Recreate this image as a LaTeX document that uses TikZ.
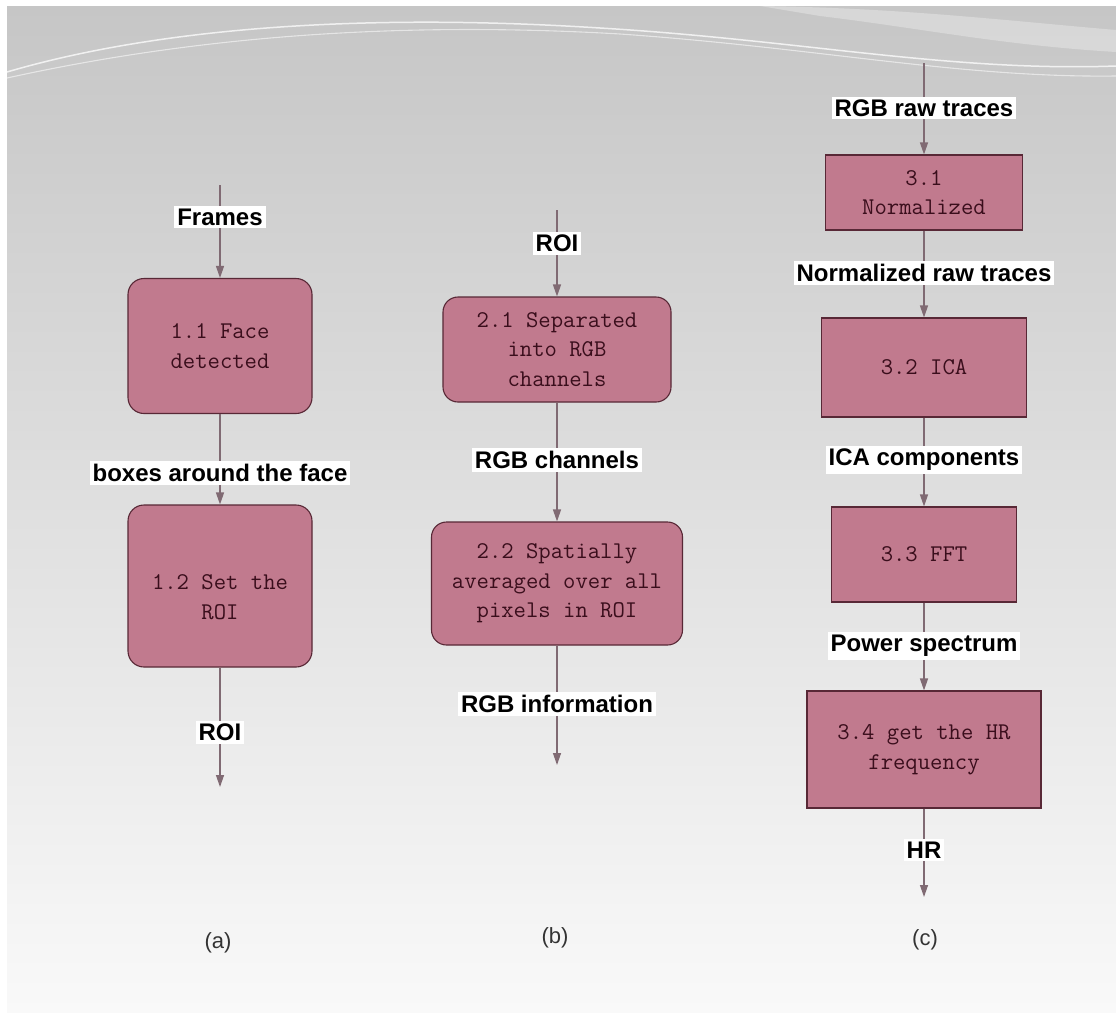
\documentclass[tikz,border=0pt]{standalone}
\usepackage{fontspec}
\newfontfamily\lblfont{Liberation Sans}
\usetikzlibrary{arrows.meta}

\definecolor{bgtop}{RGB}{198,198,198}
\definecolor{bgbot}{RGB}{249,249,249}
\definecolor{boxfill}{RGB}{193,122,142}
\definecolor{boxline}{RGB}{88,40,54}
\definecolor{boxtext}{RGB}{58,14,28}
\definecolor{flowline}{RGB}{128,106,115}

\begin{document}
\begin{tikzpicture}[x=1pt,y=-1pt,
  stepbox/.style={draw=boxline, fill=boxfill, line width=1.1pt, text=boxtext,
    font=\ttfamily\fontsize{24}{29.5}\selectfont, align=center, inner sep=0pt},
  roundbox/.style={stepbox, rounded corners=16pt},
  flow/.style={draw=flowline, line width=1.3pt, -{Triangle[width=8pt,length=12pt]}},
  tag/.style={fill=white, inner xsep=3pt, inner ysep=3pt,
    font=\lblfont\bfseries\fontsize{24}{28}\selectfont, text=black},
  caption/.style={font=\lblfont\fontsize{22}{26}\selectfont, text=black!80}
]
\useasboundingbox (0,0) rectangle (1116,1012);

% slide background
\fill[white] (0,0) rectangle (1116,1012);
\shade[top color=bgtop, bottom color=bgbot] (7,6) rectangle (1116,1012);
\fill[white, opacity=0.3] (760,6) .. controls (900,8) and (1000,20) .. (1116,30)
  -- (1116,52) .. controls (1000,45) and (920,28) .. (820,16) -- cycle;
\draw[white, opacity=0.75, line width=1.5pt] (7,72) .. controls (150,30) and (350,12) .. (600,28)
  .. controls (800,40) and (950,72) .. (1116,66);
\draw[white, opacity=0.55, line width=1.1pt] (7,78) .. controls (180,40) and (380,20) .. (620,34)
  .. controls (820,48) and (960,78) .. (1116,76);

% column (a)
\coordinate (a-in) at (220,185);
\coordinate (a-out) at (220,787);
\node[roundbox, minimum width=184pt, minimum height=135pt] (s11) at (220,346) {1.1 Face\\detected};
\node[roundbox, minimum width=184pt, minimum height=162pt] (s12) at (220,586)
  {\raisebox{-19pt}[0pt][0pt]{\begin{tabular}{@{}c@{}}1.2 Set the\\ROI\end{tabular}}};
\draw[flow] (a-in) -- (s11.north);
\draw[flow] (s11.south) -- (s12.north);
\draw[flow] (s12.south) -- (a-out);
\node[tag] (t-frames) at (220,217) {Frames};
\node[tag] (t-boxes) at (220,473) {boxes around the face};
\node[tag] (t-roi-a) at (220,732) {ROI};
\node[caption] (cap-a) at (218,943) {(a)};

% column (b)
\coordinate (b-in) at (557,210);
\coordinate (b-out) at (557,765);
\node[stepbox, rounded corners=15pt, minimum width=228pt, minimum height=105pt] (s21) at (557,349.5)
  {2.1 Separated\\into RGB\\channels};
\node[stepbox, rounded corners=15pt, minimum width=251pt, minimum height=123pt] (s22) at (557,583.5)
  {2.2 Spatially\\averaged over all\\pixels in ROI};
\draw[flow] (b-in) -- (s21.north);
\draw[flow] (s21.south) -- (s22.north);
\draw[flow] (s22.south) -- (b-out);
\node[tag] (t-roi-b) at (557,243) {ROI};
\node[tag] (t-rgbch) at (557,460) {RGB channels};
\node[tag] (t-rgbinfo) at (557,704) {RGB information};
\node[caption] (cap-b) at (555,938) {(b)};

% column (c)
\coordinate (c-in) at (924,63);
\coordinate (c-out) at (924,897);
\node[stepbox, minimum width=197pt, minimum height=75pt] (s31) at (924,192.5) {3.1\\Normalized};
\node[stepbox, minimum width=205pt, minimum height=99pt] (s32) at (924,367.5) {3.2 ICA};
\node[stepbox, minimum width=185pt, minimum height=95pt] (s33) at (924,554.5) {3.3 FFT};
\node[stepbox, minimum width=234pt, minimum height=117pt] (s34) at (924,749.5) {3.4 get the HR\\frequency};
\draw[flow] (c-in) -- (s31.north);
\draw[flow] (s31.south) -- (s32.north);
\draw[flow] (s32.south) -- (s33.north);
\draw[flow] (s33.south) -- (s34.north);
\draw[flow] (s34.south) -- (c-out);
\node[tag] (t-raw) at (924,108) {RGB raw traces};
\node[tag] (t-normraw) at (924,273) {Normalized raw traces};
\node[tag] (t-ica) at (924,460) {ICA components};
\node[tag] (t-power) at (924,646) {Power spectrum};
\node[tag] (t-hr) at (924,850) {HR};
\node[caption] (cap-c) at (925,940) {(c)};
\end{tikzpicture}
\end{document}
